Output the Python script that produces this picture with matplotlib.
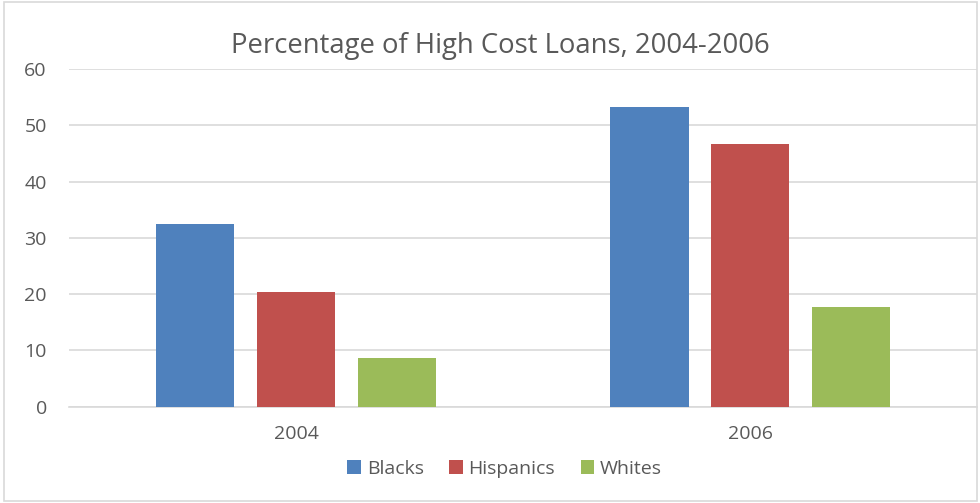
import numpy as np
import matplotlib.pyplot as plt
from matplotlib.patches import Rectangle

# Data
years = ["2004", "2006"]
series_names = ["Blacks", "Hispanics", "Whites"]
blacks = [32.4, 53.3]
hispanics = [20.3, 46.6]
whites = [8.7, 17.7]
colors = ["#4F81BD", "#C0504D", "#9BBB59"]

plt.rcParams['font.family'] = ['Open Sans', 'DejaVu Sans']
text_color = "#595959"

fig = plt.figure(figsize=(9.8, 5.03), dpi=100)
ax = fig.add_axes([0.0704, 0.1918, 0.9266, 0.671])

x = np.arange(len(years))
width = 0.173
step = 0.222
for i, (vals, c) in enumerate(zip([blacks, hispanics, whites], colors)):
    ax.bar(x + (i - 1) * step, vals, width, color=c, label=series_names[i], zorder=3)

ax.set_xlim(-0.5, 1.5)
ax.set_ylim(0, 60)
ax.set_yticks(range(0, 61, 10))
ax.set_xticks(x)
ax.set_xticklabels(years)
ax.grid(axis='y', color="#D9D9D9", linewidth=1.2, zorder=0)
for s in ["top", "right", "left"]:
    ax.spines[s].set_visible(False)
ax.spines["bottom"].set_color("#D9D9D9")
ax.spines["bottom"].set_linewidth(1.2)
ax.tick_params(axis='both', length=0, labelsize=14, colors=text_color)
ax.tick_params(axis='x', pad=13)
ax.tick_params(axis='y', pad=16)

fig.text(0.511, 0.908, "Percentage of High Cost Loans, 2004-2006", ha='center', va='center',
         fontsize=19.8, color=text_color)

handles, labels = ax.get_legend_handles_labels()
leg = fig.legend(handles, labels, loc='center', bbox_to_anchor=(0.515, 0.068), ncol=3,
                 frameon=False, fontsize=14, handlelength=0.7, handleheight=0.7,
                 handletextpad=0.3, columnspacing=1.3)
for t in leg.get_texts():
    t.set_color(text_color)

fig.patches.append(Rectangle((0.004, 0.003), 0.993, 0.994, transform=fig.transFigure,
                             fill=False, edgecolor="#D9D9D9", linewidth=1.2))

fig.savefig("out.png", dpi=100)
